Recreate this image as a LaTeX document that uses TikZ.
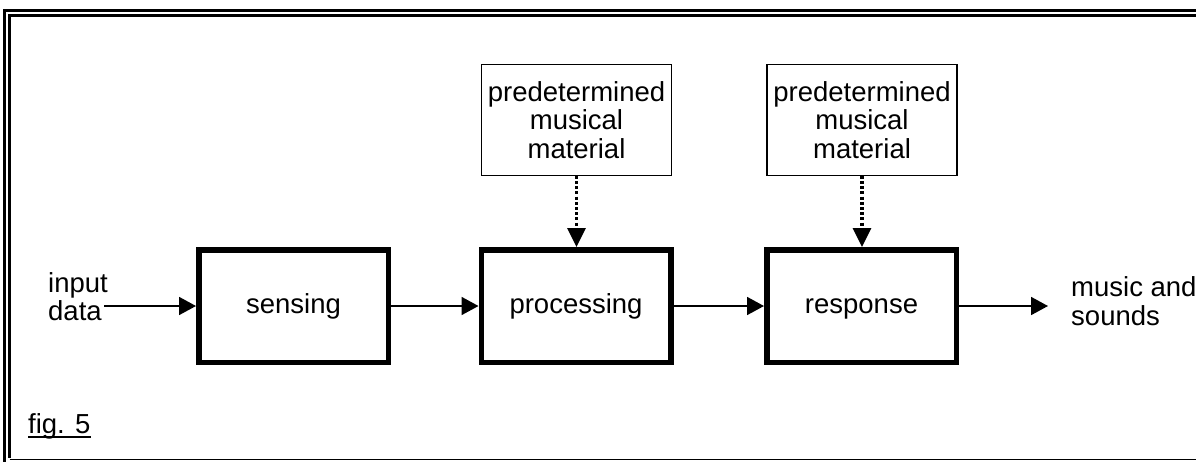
\documentclass[tikz,border=0pt]{standalone}
\usepackage{fontspec}
\setmainfont{Liberation Sans}
\usetikzlibrary{arrows.meta,calc}
\begin{document}
\begin{tikzpicture}[x=1pt,y=-1pt,
  every node/.style={font=\fontsize{27.5}{28.5}\selectfont},
  stage/.style={draw, line width=5.5pt, minimum width=189.5pt, minimum height=112.5pt,
    inner sep=0pt, text height=20pt, text depth=6pt},
  source/.style={draw, line width=1.2pt, minimum width=190pt, minimum height=110.5pt,
    inner sep=0pt, align=center},
  caption/.style={inner sep=0pt, align=left},
  flow/.style={line width=1.8pt, -{Triangle[length=17pt,width=18pt]}},
  feed/.style={line width=3.2pt, dash pattern=on 3pt off 2.2pt,
    -{Triangle[length=19pt,width=18pt]}}]
\useasboundingbox (0,0) rectangle (1196,461);
\fill[white] (0,0) rectangle (1196,461);

% double frame, running off the right and bottom edges
\draw[line width=3pt] (4.5,475) -- (4.5,10) -- (1210,10);
\draw[line width=3pt] (9.5,457.5) -- (9.5,15.5) -- (1210,15.5);
\draw[line width=1.6pt] (9.5,459.5) -- (1210,459.5);

% processing chain
\node[stage] (sense) at (293.5,306) {sensing};
\node[stage] (proc)  at (576,306)   {processing};
\node[stage] (resp)  at (861.5,306) {response};

% stored material feeding the stages
\node[source] (matA) at (576.5,120) {predetermined\\musical\\material};
\node[source] (matB) at (862,120)   {predetermined\\musical\\material};

% input and output labels
\node[caption, anchor=north west] (inp) at (48,272) {input\\data};
\node[caption, anchor=north west] (out) at (1071,276.5) {music and\\sounds};
\node[inner sep=0pt, anchor=base west] (fig) at (28,433) {fig. 5};
\draw[line width=2pt] ($(fig.base west)+(0,4)$) -- ($(fig.base east)+(0,4)$);

\coordinate (src) at (104,306);
\coordinate (snk) at (1048,306);

% connectors
\draw[flow] (src) -- (sense.west);
\draw[flow] (sense.east) -- (proc.west);
\draw[flow] (proc.east) -- (resp.west);
\draw[flow] (resp.east) -- (snk);
\draw[feed] (matA.south) -- (matA.south |- proc.north);
\draw[feed] (matB.south) -- (matB.south |- resp.north);
\end{tikzpicture}
\end{document}
